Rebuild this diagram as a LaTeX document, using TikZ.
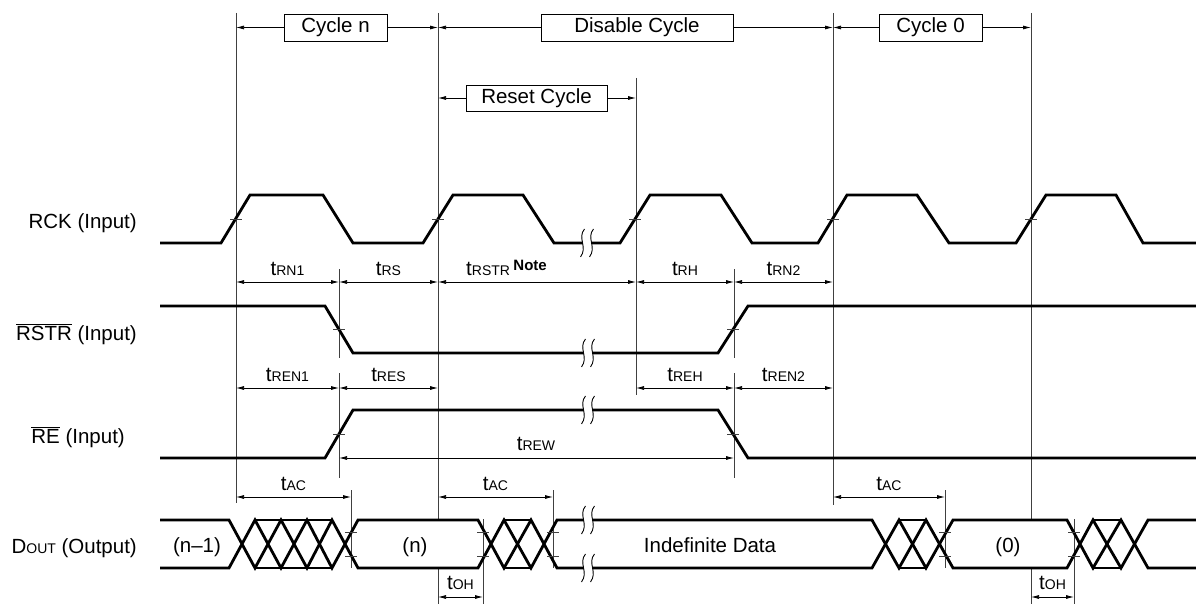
\documentclass[tikz,border=0pt]{standalone}
\usepackage{fontspec}
\setmainfont{Liberation Sans}
\usetikzlibrary{arrows.meta}
\newcommand{\subf}{\fontsize{14}{14}\selectfont}
\newcommand{\tm}[1]{t{\subf #1}}
\newcommand{\ovl}[1]{$\overline{\hbox{#1}}$}
\newcommand{\brkmark}[2]{%
  \fill[white] (#1-4.5,#2-3) rectangle (#1+4.5,#2+3);
  \draw[brkline] (#1-2.5,#2-14) .. controls (#1-10,#2-5) and (#1+1,#2+4) .. (#1-6.5,#2+14);
  \draw[brkline] (#1+6.5,#2-14) .. controls (#1-1,#2-5) and (#1+10,#2+4) .. (#1+2.5,#2+14);
}
\begin{document}
\begin{tikzpicture}[x=1pt,y=-1pt,font=\fontsize{20.5}{24}\selectfont,
  wave/.style={line width=2.8pt,black},
  guide/.style={line width=0.75pt,black!75},
  tickm/.style={line width=0.75pt,black!75},
  brkline/.style={line width=0.9pt,black},
  dimline/.style={line width=0.75pt,black,{Latex[length=8pt,width=4pt]}-{Latex[length=8pt,width=4pt]}},
  arr/.style={line width=0.75pt,black,-{Latex[length=8pt,width=4pt]}},
  cyc/.style={draw,line width=0.75pt,fill=white,inner sep=0pt,minimum height=27pt},
  lbl/.style={inner sep=0pt,anchor=base},
  sig/.style={inner sep=0pt,anchor=base east}]
\useasboundingbox (0,0) rectangle (1196,604);

% guide lines
\draw[guide] (236,13) -- (236,503);
\draw[guide] (438,13) -- (438,520) (438,568) -- (438,604);
\draw[guide] (636,78) -- (636,395);
\draw[guide] (833,13) -- (833,505);
\draw[guide] (1031,13) -- (1031,520) (1031,568) -- (1031,604);
\draw[guide] (339,269) -- (339,358) (339,373) -- (339,478);
\draw[guide] (734,269) -- (734,358) (734,373) -- (734,478);
\draw[guide] (351,490) -- (351,568);
\draw[guide] (553,490) -- (553,568);
\draw[guide] (945,490) -- (945,568);
\draw[guide] (483,519) -- (483,604);
\draw[guide] (1074,519) -- (1074,604);

% cycle boxes
\coordinate (v1) at (236,27.5);
\coordinate (v2) at (438,27.5);
\coordinate (v4) at (833,27.5);
\coordinate (v5) at (1031,27.5);
\coordinate (r1) at (438,98);
\coordinate (r2) at (636,98);
\node[cyc,minimum width=103pt] (cn) at (335.5,27.5) {Cycle n};
\node[cyc,minimum width=192pt] (dc) at (637,27.5) {Disable Cycle};
\node[cyc,minimum width=103pt] (c0) at (930.5,27.5) {Cycle 0};
\node[cyc,minimum width=141pt,minimum height=26pt] (rc) at (536.5,98) {Reset Cycle};
\draw[arr] (cn.west) -- (v1);
\draw[arr] (cn.east) -- (v2);
\draw[arr] (dc.west) -- (v2);
\draw[arr] (dc.east) -- (v4);
\draw[arr] (c0.west) -- (v4);
\draw[arr] (c0.east) -- (v5);
\draw[arr] (rc.west) -- (r1);
\draw[arr] (rc.east) -- (r2);

% signal names
\node[sig] (nrck) at (137,229) {RCK (Input)};
\node[sig] (nrstr) at (137,340) {\ovl{RSTR} (Input)};
\node[sig] (nre) at (125,443) {\ovl{RE} (Input)};
\node[sig] (ndout) at (137,553) {D{\subf OUT} (Output)};

% RCK
\draw[wave] (160,243) -- (221,243) -- (250,195) -- (323,195) -- (353,243) -- (423,243) -- (453,195) -- (523,195) -- (554,243) -- (620,243) -- (650,195) -- (721,195) -- (752,243) -- (818,243) -- (847,195) -- (917,195) -- (949,243) -- (1016,243) -- (1046,195) -- (1116,195) -- (1143,243) -- (1196,243);
\foreach \x in {236,438,635,833,1031} \draw[tickm] (\x-6,219) -- (\x+6,219);

% RSTR
\draw[wave] (160,306) -- (325,306) -- (353,353) -- (718,353) -- (748,306) -- (1196,306);
\draw[tickm] (333,329.5) -- (345,329.5) (727,329.5) -- (739,329.5);

% RE
\draw[wave] (160,458) -- (325,458) -- (353,410) -- (718,410) -- (748,458) -- (1196,458);
\draw[tickm] (333,434) -- (345,434) (727,434) -- (739,434);

% DOUT
\draw[wave] (160,520) -- (229,520) -- (255,568) -- (281,520) -- (307,568) -- (332,520) -- (358,568) -- (478,568) -- (504,520) -- (531,568) -- (557,520) -- (872,520) -- (899,568) -- (926,520) -- (953,568) -- (1067,568) -- (1093,520) -- (1121,568) -- (1148,520) -- (1196,520);
\draw[wave] (160,568) -- (229,568) -- (255,520) -- (281,568) -- (307,520) -- (332,568) -- (358,520) -- (478,520) -- (504,568) -- (531,520) -- (557,568) -- (872,568) -- (899,520) -- (926,568) -- (953,520) -- (1067,520) -- (1093,568) -- (1121,520) -- (1148,568) -- (1196,568);
\draw[wave] (255,520) -- (332,520) (255,568) -- (332,568)
            (504,520) -- (531,520) (504,568) -- (531,568)
            (899,520) -- (926,520) (899,568) -- (926,568)
            (1093,520) -- (1121,520) (1093,568) -- (1121,568);
\foreach \x in {351,483,553,945,1074} \draw[tickm] (\x-6,532) -- (\x+6,532) (\x-6,556) -- (\x+6,556);

% breaks
\brkmark{587}{243}
\brkmark{588}{353}
\brkmark{588}{410}
\brkmark{588}{520}
\brkmark{588}{568}

% data labels
\node[lbl] (dn1) at (197,552) {(n--1)};
\node[lbl] (dn) at (415,552) {(n)};
\node[lbl] (dind) at (710,552) {Indefinite Data};
\node[lbl] (d0) at (1008,552) {(0)};

% timing row 1
\coordinate (a1) at (236,282); \coordinate (a2) at (339,282); \coordinate (a3) at (438,282);
\coordinate (a4) at (636,282); \coordinate (a5) at (734,282); \coordinate (a6) at (833,282);
\draw[dimline] (a1) -- (a2);
\draw[dimline] (a2) -- (a3);
\draw[dimline] (a3) -- (a4);
\draw[dimline] (a4) -- (a5);
\draw[dimline] (a5) -- (a6);
\node[lbl] (trn1) at (287.5,275) {\tm{RN1}};
\node[lbl] (trs) at (388.5,275) {\tm{RS}};
\node[lbl,anchor=base west] (trstr) at (466,275) {\tm{RSTR}\,\raisebox{5pt}{\fontsize{15}{15}\selectfont\bfseries Note}};
\node[lbl] (trh) at (685,275) {\tm{RH}};
\node[lbl] (trn2) at (783.5,275) {\tm{RN2}};

% timing row 2
\coordinate (b1) at (236,388); \coordinate (b2) at (339,388); \coordinate (b3) at (438,388);
\coordinate (b4) at (636,388); \coordinate (b5) at (734,388); \coordinate (b6) at (833,388);
\draw[dimline] (b1) -- (b2);
\draw[dimline] (b2) -- (b3);
\draw[dimline] (b4) -- (b5);
\draw[dimline] (b5) -- (b6);
\node[lbl] (tren1) at (287.5,381) {\tm{REN1}};
\node[lbl] (tres) at (388.5,381) {\tm{RES}};
\node[lbl] (treh) at (685,381) {\tm{REH}};
\node[lbl] (tren2) at (783.5,381) {\tm{REN2}};

% tREW
\coordinate (w1) at (339,458); \coordinate (w2) at (734,458);
\draw[dimline] (w1) -- (w2);
\node[lbl] (trew) at (536,450) {\tm{REW}};

% tAC
\coordinate (c1) at (236,497); \coordinate (c2) at (351,497);
\coordinate (c3) at (438,497); \coordinate (c4) at (553,497);
\coordinate (c5) at (833,497); \coordinate (c6) at (945,497);
\draw[dimline] (c1) -- (c2);
\draw[dimline] (c3) -- (c4);
\draw[dimline] (c5) -- (c6);
\node[lbl] (tac1) at (293.5,490) {\tm{AC}};
\node[lbl] (tac2) at (495.5,490) {\tm{AC}};
\node[lbl] (tac3) at (889,490) {\tm{AC}};

% tOH
\coordinate (h1) at (438,597); \coordinate (h2) at (483,597);
\coordinate (h3) at (1031,597); \coordinate (h4) at (1074,597);
\draw[dimline] (h1) -- (h2);
\draw[dimline] (h3) -- (h4);
\node[lbl] (toh1) at (460.5,589) {\tm{OH}};
\node[lbl] (toh2) at (1052.5,589) {\tm{OH}};
\end{tikzpicture}
\end{document}
